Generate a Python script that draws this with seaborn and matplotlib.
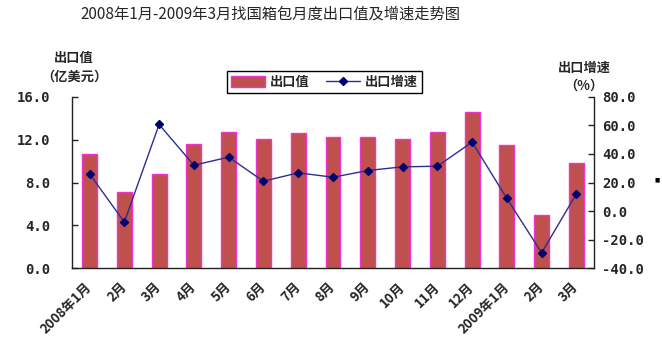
import matplotlib
matplotlib.use("Agg")
import matplotlib.pyplot as plt
from matplotlib.patches import Patch
from matplotlib.lines import Line2D
import seaborn as sns
import pandas as pd

# Monthly luggage/bag exports, Jan 2008 - Mar 2009
months = ["2008年1月", "2月", "3月", "4月", "5月", "6月", "7月", "8月",
          "9月", "10月", "11月", "12月", "2009年1月", "2月", "3月"]
export_value = [10.7, 7.1, 8.8, 11.6, 12.7, 12.1, 12.6, 12.3,
                12.3, 12.1, 12.7, 14.6, 11.5, 5.0, 9.8]          # 亿美元
export_growth = [26.1, -7.8, 60.7, 32.1, 37.8, 20.9, 26.8, 23.7,
                 28.4, 31.0, 31.4, 48.3, 8.8, -29.3, 12.1]        # %
left_ticks = [0, 4, 8, 12, 16]
right_ticks = [-40, -20, 0, 20, 40, 60, 80]

sns.set_theme(style="white")
plt.rcParams["font.family"] = ["Noto Sans CJK SC", "DejaVu Sans"]
plt.rcParams["axes.unicode_minus"] = False

BAR = "#C0504D"
EDGE = "#F033D0"
LINE = "#2E2E90"
MARK = "#000070"

df = pd.DataFrame({"month": range(len(months)), "label": months,
                   "value": export_value, "growth": export_growth})
df["key"] = [f"{i:02d}" for i in df["month"]]

fig = plt.figure(figsize=(6.62, 3.45), dpi=100)
ax = fig.add_axes([0.109, 0.223, 0.788, 0.496])

sns.barplot(data=df, x="key", y="value", color=BAR, width=0.43,
            edgecolor=EDGE, linewidth=1.0, saturation=1, ax=ax)
ax.set_xlim(-0.5, len(months) - 0.5)
ax.set_ylim(0, 16)
ax.set_yticks(left_ticks)
ax.set_yticklabels([f"{t:.1f}" for t in left_ticks])

ax2 = ax.twinx()
ax2.plot(df["month"], df["growth"], color=LINE, lw=1.0,
         marker="D", ms=4.5, mfc=MARK, mec=MARK, zorder=5)
ax2.set_ylim(-40, 80)
ax2.set_yticks(right_ticks)
ax2.set_yticklabels([f"{t:.1f}" for t in right_ticks])
ax2.set_xlim(-0.5, len(months) - 0.5)

# x ticks sit between categories; labels sit under each bar
ax.set_xticks([i + 0.5 for i in range(len(months) - 1)], minor=False)
ax.set_xticklabels([])
ax.set_xticks(range(len(months)), minor=True)
ax.set_xticklabels(months, minor=True, rotation=45, ha="right",
                   va="center", rotation_mode="anchor", fontsize=9.5,
                   fontweight="bold")
ax.tick_params(axis="x", which="major", direction="in", length=4,
               width=1, color="#222222")
ax.tick_params(axis="x", which="minor", length=0, pad=12)
ax.tick_params(axis="y", direction="in", length=4, width=1,
               color="#222222", labelsize=10, pad=16)
ax2.tick_params(axis="y", direction="in", length=4, width=1,
                color="#222222", labelsize=10, pad=6)
for lab in ax.get_yticklabels() + ax2.get_yticklabels():
    lab.set_fontweight("bold")
    lab.set_family(["DejaVu Sans Mono", "DejaVu Sans"])

for a in (ax, ax2):
    a.set_xlabel("")
    a.set_ylabel("")
    a.spines["top"].set_visible(False)
    for s in ("left", "right", "bottom"):
        a.spines[s].set_color("#222222")
        a.spines[s].set_linewidth(1.0)
ax2.spines["bottom"].set_visible(False)
ax2.spines["left"].set_visible(False)
ax.spines["right"].set_visible(False)
ax.grid(False)
ax2.grid(False)

fig.text(0.408, 0.958, "2008年1月-2009年3月找国箱包月度出口值及增速走势图",
         ha="center", va="center", fontsize=11)
fig.text(0.112, 0.832, "出口值", ha="center", va="center",
         fontsize=9.5, fontweight="bold")
fig.text(0.112, 0.777, "（亿美元）", ha="center", va="center",
         fontsize=9.5, fontweight="bold")
fig.text(0.882, 0.803, "出口增速", ha="center", va="center",
         fontsize=9.5, fontweight="bold")
fig.text(0.882, 0.752, "（%）", ha="center", va="center",
         fontsize=9.5, fontweight="bold")
fig.text(0.993, 0.478, "■", ha="center", va="center", fontsize=4,
         color="black", family="DejaVu Sans")

handles = [Patch(facecolor=BAR, edgecolor=EDGE, linewidth=1.0),
           Line2D([], [], color=LINE, lw=1.0, marker="D", ms=4,
                  mfc=MARK, mec=MARK)]
leg = fig.legend(handles, ["出口值", "出口增速"], loc="center",
                 bbox_to_anchor=(0.49, 0.762), ncol=2, frameon=True,
                 fancybox=False, edgecolor="black", framealpha=1,
                 handlelength=2.6, handleheight=0.8, columnspacing=1.2,
                 handletextpad=0.4, borderpad=0.3,
                 prop={"weight": "bold", "size": 9.5})
leg.get_frame().set_linewidth(1.0)

fig.savefig("out.png", dpi=100)
